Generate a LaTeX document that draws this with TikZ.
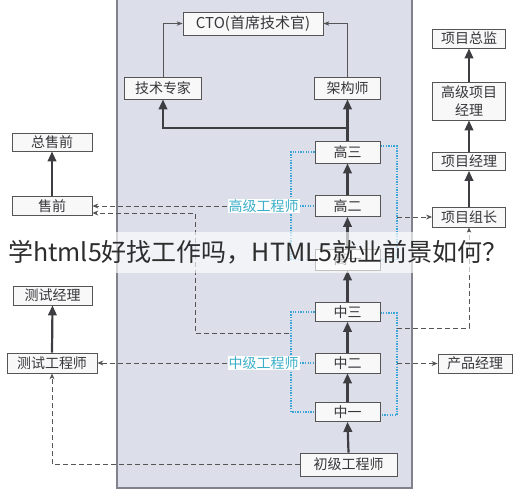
\documentclass[tikz,border=0pt]{standalone}
\usepackage{fontspec}
\newfontfamily\cjk{Noto Sans CJK SC}
\usetikzlibrary{arrows.meta}
\definecolor{panelc}{RGB}{220,222,234}
\definecolor{panelline}{RGB}{130,130,140}
\definecolor{boxline}{RGB}{85,85,85}
\definecolor{boxfill}{RGB}{248,248,248}
\definecolor{txt}{RGB}{55,55,60}
\definecolor{darkarr}{RGB}{62,62,66}
\definecolor{dashc}{RGB}{85,85,85}
\definecolor{bluec}{RGB}{60,165,215}
\definecolor{labc}{RGB}{60,175,200}
\definecolor{ovtxt}{RGB}{45,45,45}
\pgfdeclarelayer{back}
\pgfdeclarelayer{lines}
\pgfdeclarelayer{front}
\pgfsetlayers{back,lines,main,front}
\tikzset{
  box/.style={draw=boxline, line width=0.8pt, fill=boxfill, inner sep=0pt,
    font=\cjk\fontsize{14}{17}\selectfont, text=txt, align=center},
  grouplabel/.style={fill=white, inner sep=1pt, text=labc,
    font=\cjk\fontsize{14}{17}\selectfont},
  thickarr/.style={line width=2.2pt, draw=darkarr,
    -{Triangle[length=10pt,width=8.5pt]}},
  thickline/.style={line width=2.2pt, draw=darkarr},
  thinarr/.style={line width=0.8pt, draw=dashc, -{Stealth[length=6pt,width=4.5pt]}},
  dasharr/.style={line width=0.9pt, draw=dashc, dash pattern=on 5pt off 3pt,
    -{Stealth[length=6pt,width=5pt]}},
  bluedot/.style={line width=1.4pt, draw=bluec, dash pattern=on 1.3pt off 1.3pt}
}
\begin{document}
\begin{tikzpicture}[x=1pt,y=-1pt]
\useasboundingbox (0,0) rectangle (515,490);
\begin{pgfonlayer}{back}
\draw[draw=panelline, line width=1.2pt, fill=panelc] (117,-5) rectangle (412,488);
\end{pgfonlayer}

% central column
\node[box, minimum width=140pt, minimum height=23pt, font=\cjk\fontsize{15}{17}\selectfont] (cto) at (253,23.5) {CTO(首席技术官)};
\node[box, minimum width=77pt, minimum height=22pt] (jszj) at (163,88) {技术专家};
\node[box, minimum width=66pt, minimum height=22pt] (jgs) at (347.5,88) {架构师};
\node[box, minimum width=65pt, minimum height=22pt] (g3) at (347.5,152) {高三};
\node[box, minimum width=65pt, minimum height=21pt] (g2) at (347.5,206) {高二};
\node[box, minimum width=65pt, minimum height=21pt] (g1) at (347.5,259.5) {高一};
\node[box, minimum width=65pt, minimum height=19pt] (z3) at (347.5,312) {中三};
\node[box, minimum width=65pt, minimum height=20pt] (z2) at (347.5,363) {中二};
\node[box, minimum width=65pt, minimum height=19pt] (z1) at (347.5,412) {中一};
\node[box, minimum width=97pt, minimum height=23pt] (cj) at (348.5,464.5) {初级工程师};

% left column
\node[box, minimum width=80pt, minimum height=18pt] (zsq) at (52,142) {总售前};
\node[box, minimum width=80pt, minimum height=19pt] (sq) at (52,206) {售前};
\node[box, minimum width=79pt, minimum height=19pt] (csjl) at (52.5,295.5) {测试经理};
\node[box, minimum width=90pt, minimum height=20pt] (csgcs) at (52,363) {测试工程师};

% right column
\node[box, minimum width=73pt, minimum height=19pt] (xmzj) at (469,38.5) {项目总监};
\node[box, minimum width=73pt, minimum height=38pt, font=\cjk\fontsize{14}{18}\selectfont] (gjxm) at (469,101) {高级项目\\经理};
\node[box, minimum width=73pt, minimum height=18pt] (xmjl) at (469,161.5) {项目经理};
\node[box, minimum width=73pt, minimum height=20pt] (xmzz) at (469,217) {项目组长};
\node[box, minimum width=74pt, minimum height=19pt] (cpjl) at (475,363.5) {产品经理};

% group labels
\node[grouplabel] (lg) at (263.5,206) {高级工程师};
\node[grouplabel] (lz) at (263.5,363) {中级工程师};

% helper coordinates
\coordinate (jn) at (347.5,128);
\coordinate (gLb) at (291,259.5);
\coordinate (gRb) at (397,259.5);
\coordinate (zLb) at (291,412);
\coordinate (zRb) at (397,415);
\coordinate (zLd) at (289,333);
\coordinate (tA) at (195,213);
\coordinate (gRd) at (397,217);
\coordinate (zRd) at (397,328);
\coordinate (zRc) at (397,363.5);

\begin{pgfonlayer}{lines}
% thick upward arrows
\draw[thickarr] (g3.north) -- (jgs.south);
\draw[thickline] (g3.north) -- (jn);
\draw[thickarr] (jn) -| (jszj.south);
\draw[thickarr] (g2.north) -- (g3.south);
\draw[thickarr] (g1.north) -- (g2.south);
\draw[thickarr] (z3.north) -- (g1.south);
\draw[thickarr] (z2.north) -- (z3.south);
\draw[thickarr] (z1.north) -- (z2.south);
\draw[thickarr] (cj.north) -- (z1.south);
\draw[thickarr] (sq.north) -- (zsq.south);
\draw[thickarr] (csgcs.north) -- (csjl.south);
\draw[thickarr] (xmzz.north) -- (xmjl.south);
\draw[thickarr] (xmjl.north) -- (gjxm.south);
\draw[thickarr] (gjxm.north) -- (xmzj.south);
% thin arrows to CTO
\draw[thinarr] (jszj.north) |- (cto.west);
\draw[thinarr] (jgs.north) |- (cto.east);
% blue dotted groups
\draw[bluedot] (g3.west) -| (gLb) -- (g1.west);
\draw[bluedot] ([yshift=6pt]g3.east) -| (gRb) -- (g1.east);
\draw[bluedot] (z3.west) -| (zLb) -- (z1.west);
\draw[bluedot] ([yshift=-1pt]z3.east) -| (zRb) -- ([yshift=-3pt]z1.east);
\draw[bluedot] (lg.east) -- (g2.west);
\draw[bluedot] (lz.east) -- (z2.west);
% dashed arrows
\draw[dasharr] (lg.west) -- (sq.east);
\draw[dasharr] (zLd) -| (tA) -- ([yshift=-7pt]sq.east);
\draw[dasharr] (lz.west) -- (csgcs.east);
\draw[dasharr] (cj.west) -| (csgcs.south);
\draw[dasharr] (gRd) -- (xmzz.west);
\draw[dasharr] (zRd) -| (xmzz.south);
\draw[dasharr] (zRc) -- (cpjl.west);
\end{pgfonlayer}

\begin{pgfonlayer}{front}
\fill[white, opacity=0.65] (0,232) rectangle (515,273);
\node[font=\cjk\fontsize{25}{28}\selectfont, text=ovtxt, inner sep=0pt] (ov) at (258,252.5) {学html5好找工作吗，HTML5就业前景如何？};
\end{pgfonlayer}
\end{tikzpicture}
\end{document}
